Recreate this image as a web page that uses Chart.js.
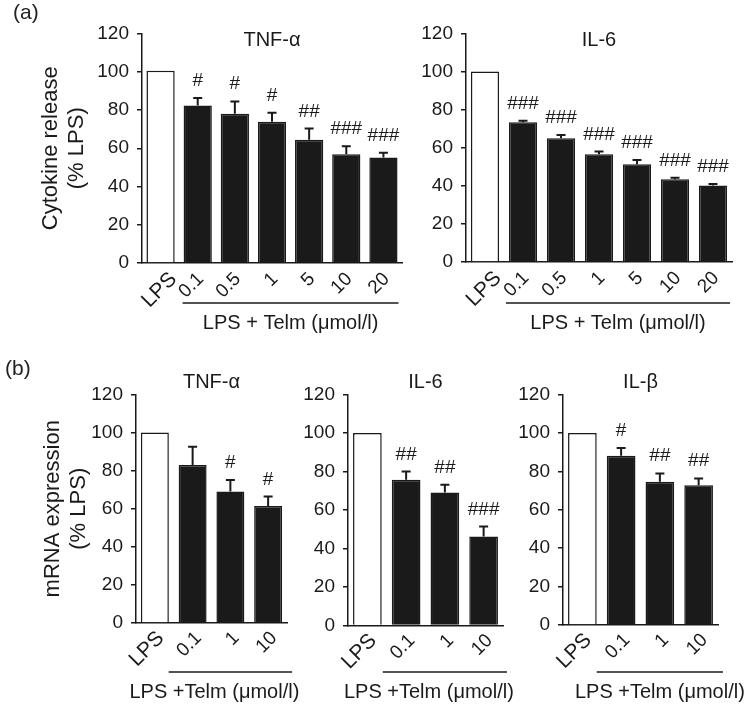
<!DOCTYPE html>
<html>
<head>
<meta charset="utf-8">
<script src="https://cdn.jsdelivr.net/npm/chart.js@4"></script>
<style>
  body { margin: 0; background: #fff; }
  #wrap { position: relative; width: 750px; height: 709px; font-family: "Liberation Sans", Arial, sans-serif; color: #222; }
  canvas { position: absolute; }
  .panel { position: absolute; font-size: 21px; line-height: 1; }
</style>
</head>
<body>
<div id="wrap">
  <canvas id="a1" width="405" height="340" style="left:0;top:0"></canvas>
  <canvas id="a2" width="345" height="340" style="left:405px;top:0"></canvas>
  <canvas id="b1" width="300" height="364" style="left:0;top:345px"></canvas>
  <canvas id="b2" width="215" height="364" style="left:300px;top:345px"></canvas>
  <canvas id="b3" width="235" height="364" style="left:515px;top:345px"></canvas>
  <div class="panel" style="left:13px;top:1px">(a)</div>
  <div class="panel" style="left:5px;top:357px">(b)</div>
</div>
<script>
// panel (a): cytokine release
const catsA = ['LPS', '0.1', '0.5', '1', '5', '10', '20'];
const tnfA = [100.5, 82.3, 78.1, 73.8, 64.4, 56.8, 55.2];
const tnfAErr = [0, 4.0, 6.4, 4.7, 5.9, 4.3, 2.4];
const tnfASig = ['', '#', '#', '#', '##', '###', '###'];
const il6A = [100, 73.4, 65, 56.6, 51.4, 43.5, 40.2];
const il6AErr = [0, 0.8, 1.7, 1.4, 2.2, 0.8, 0.7];
const il6ASig = ['', '###', '###', '###', '###', '###', '###'];

// panel (b): mRNA expression
const catsB = ['LPS', '0.1', '1', '10'];
const tnfB = [100, 83, 69, 61.5];
const tnfBErr = [0, 9.6, 6.1, 4.9];
const tnfBSig = ['', '', '#', '#'];
const il6B = [100, 75.7, 69.1, 46.2];
const il6BErr = [0, 4.3, 4.0, 5.2];
const il6BSig = ['', '##', '##', '###'];
const ilbB = [100, 88.1, 74.6, 72.8];
const ilbBErr = [0, 4.1, 4.3, 3.5];
const ilbBSig = ['', '#', '##', '##'];

const yTicks = [0, 20, 40, 60, 80, 100, 120];
const FONT = '"Liberation Sans", Arial, sans-serif';
const INK = '#1a1a1a';

const extras = {
  id: 'extras',
  afterDatasetsDraw(chart) {
    const c = chart.options.plugins.extras;
    const ctx = chart.ctx;
    const y = chart.scales.y;
    const meta = chart.getDatasetMeta(0);
    ctx.save();
    ctx.strokeStyle = INK;
    ctx.fillStyle = INK;
    ctx.lineWidth = 2;
    meta.data.forEach((bar, i) => {
      const top = y.getPixelForValue(c.values[i] + c.errs[i]);
      if (c.errs[i] > 0) {
        ctx.beginPath();
        ctx.moveTo(bar.x, bar.y);
        ctx.lineTo(bar.x, top);
        ctx.moveTo(bar.x - 4.5, top);
        ctx.lineTo(bar.x + 4.5, top);
        ctx.stroke();
      }
      if (c.sigs[i]) {
        ctx.font = '19px ' + FONT;
        ctx.textAlign = 'center';
        ctx.textBaseline = 'alphabetic';
        ctx.fillText(c.sigs[i], bar.x, top - 12);
      }
    });
    ctx.restore();
  },
  afterDraw(chart) {
    const c = chart.options.plugins.extras;
    const ctx = chart.ctx;
    const area = chart.chartArea;
    const xs = chart.scales.x;
    const meta = chart.getDatasetMeta(0);
    ctx.save();
    ctx.fillStyle = INK;
    ctx.strokeStyle = INK;

    // rotated category labels, end-anchored under each bar
    xs.getLabels().forEach((lab, i) => {
      const px = xs.getPixelForTick(i);
      ctx.save();
      ctx.translate(px + (i === 0 ? c.lpsDx : c.lblDx), area.bottom + c.lblDy);
      ctx.rotate(-Math.PI / 4);
      ctx.font = (i === 0 ? 21 : 19) + 'px ' + FONT;
      ctx.textAlign = 'right';
      ctx.textBaseline = 'middle';
      ctx.fillText(lab, 0, 0);
      ctx.restore();
    });

    const first = meta.data[1], last = meta.data[meta.data.length - 1];
    const x0 = first.x - first.width / 2 - c.ext;
    const x1 = last.x + last.width / 2 + c.ext;
    ctx.lineWidth = 1.5;
    ctx.beginPath();
    ctx.moveTo(x0, c.lineY);
    ctx.lineTo(x1, c.lineY);
    ctx.stroke();
    ctx.textAlign = 'center';
    ctx.textBaseline = 'middle';
    ctx.font = '20px ' + FONT;
    ctx.fillText(c.groupLabel, (x0 + x1) / 2 + c.labelShift, c.textY);
    ctx.fillText(c.title, (area.left + area.right) / 2, c.titleY);
    ctx.restore();
  }
};

function makeChart(id, cats, values, errs, sigs, opt) {
  return new Chart(document.getElementById(id), {
    type: 'bar',
    data: {
      labels: cats,
      datasets: [{
        data: values,
        backgroundColor: cats.map((c, i) => i === 0 ? '#ffffff' : INK),
        borderColor: INK,
        borderWidth: 1.5,
        borderSkipped: 'bottom',
        barPercentage: opt.barPct,
        categoryPercentage: 1
      }]
    },
    options: {
      responsive: false,
      animation: false,
      layout: { padding: { top: opt.top, right: opt.right, bottom: 0, left: 0 } },
      plugins: {
        legend: { display: false },
        tooltip: { enabled: false },
        extras: Object.assign({ values: values, errs: errs, sigs: sigs }, opt)
      },
      scales: {
        x: {
          grid: { display: false, drawTicks: false },
          border: { display: true, color: INK, width: 1.5 },
          ticks: { display: false },
          afterFit(s) { s.height = opt.xH; }
        },
        y: {
          min: 0, max: 120,
          afterBuildTicks(s) { s.ticks = yTicks.map(v => ({ value: v })); },
          grid: { display: true, drawOnChartArea: false, drawTicks: true, tickLength: 5, color: INK, lineWidth: 1.5 },
          border: { display: true, color: INK, width: 1.5 },
          ticks: { color: INK, font: { family: FONT, size: 19 }, padding: 8 },
          title: {
            display: !!opt.yTitle,
            text: opt.yTitle,
            color: INK,
            font: { family: FONT, size: 22, lineHeight: 1.18 },
            padding: { top: opt.yTitlePad || 0, bottom: 0 }
          },
          afterFit(s) { s.width = opt.yW; }
        }
      }
    },
    plugins: [extras]
  });
}

makeChart('a1', catsA, tnfA, tnfAErr, tnfASig, {
  yW: 142, top: 33.5, right: 3, xH: 77, barPct: 0.76,
  lblDx: 3, lpsDx: 13, lblDy: 13,
  yTitle: ['Cytokine release', '(% LPS)'], yTitlePad: 38,
  title: 'TNF-\u03b1', titleY: 40, lineY: 303, textY: 323, ext: 1, labelShift: 0,
  groupLabel: 'LPS + Telm (\u03bcmol/l)'
});
makeChart('a2', catsA, il6A, il6AErr, il6ASig, {
  yW: 61, top: 33.5, right: 18, xH: 78, barPct: 0.74,
  lblDx: 3, lpsDx: 13, lblDy: 13,
  title: 'IL-6', titleY: 40, lineY: 303, textY: 323, ext: 3, labelShift: 0,
  groupLabel: 'LPS + Telm (\u03bcmol/l)'
});
makeChart('b1', catsB, tnfB, tnfBErr, tnfBSig, {
  yW: 136, top: 49.5, right: 13, xH: 86, barPct: 0.74,
  lblDx: 6, lpsDx: 6, lblDy: 12,
  yTitle: ['mRNA expression', '(% LPS)'], yTitlePad: 40,
  title: 'TNF-\u03b1', titleY: 37, lineY: 327, textY: 347, ext: 10, labelShift: -16,
  groupLabel: 'LPS +Telm (\u03bcmol/l)'
});
makeChart('b2', catsB, il6B, il6BErr, il6BSig, {
  yW: 48, top: 49.5, right: 12, xH: 83.5, barPct: 0.74,
  lblDx: 6, lpsDx: 6, lblDy: 12,
  title: 'IL-6', titleY: 37, lineY: 327, textY: 347, ext: 9, labelShift: -16,
  groupLabel: 'LPS +Telm (\u03bcmol/l)'
});
makeChart('b3', catsB, ilbB, ilbBErr, ilbBSig, {
  yW: 48, top: 49.5, right: 32, xH: 84, barPct: 0.74,
  lblDx: 6, lpsDx: 6, lblDy: 12,
  title: 'IL-\u03b2', titleY: 37, lineY: 327, textY: 347, ext: 10, labelShift: 0,
  groupLabel: 'LPS +Telm (\u03bcmol/l)'
});
</script>
</body>
</html>
